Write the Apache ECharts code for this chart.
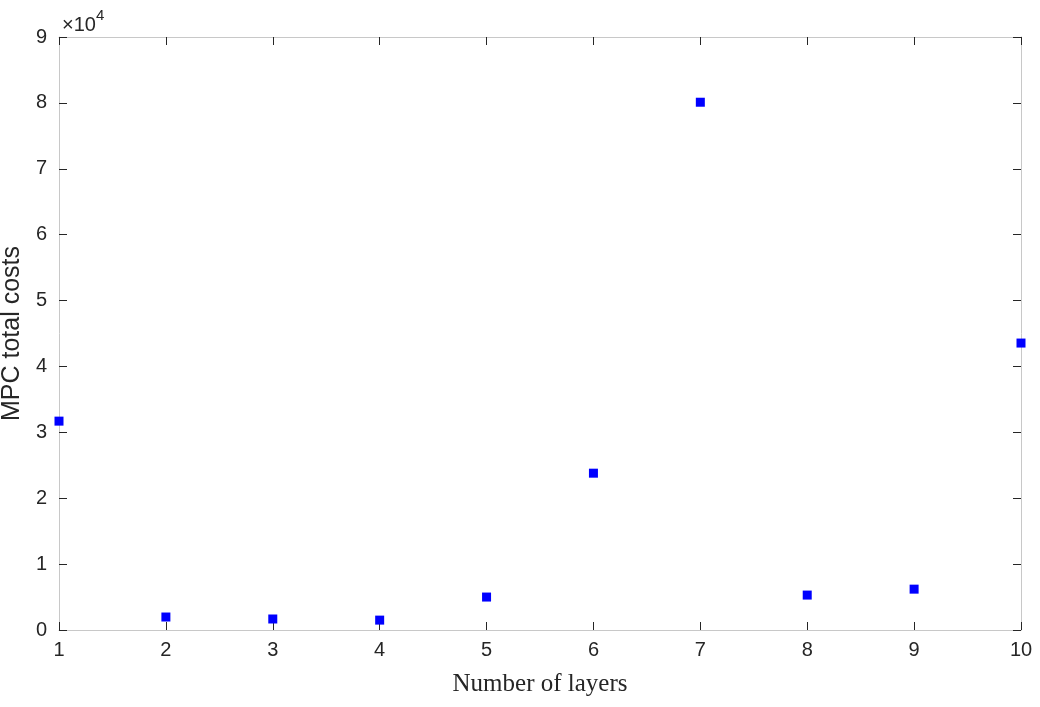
<!DOCTYPE html>
<html>
<head>
<meta charset="utf-8">
<script src="https://cdn.jsdelivr.net/npm/echarts@6/dist/echarts.min.js"></script>
<style>html,body{margin:0;padding:0;background:#fff}#chart{width:1040px;height:707px}</style>
</head>
<body>
<div id="chart"></div>
<script>
// Number of layers vs MPC total costs
const layers = [1, 2, 3, 4, 5, 6, 7, 8, 9, 10];
const costs = [31700, 1970, 1670, 1500, 5000, 23800, 80100, 5300, 6200, 43550];

const chart = echarts.init(document.getElementById('chart'));
const tickColor = '#262626';
const axisCommon = {
  axisLine: { show: true, onZero: false, lineStyle: { color: '#c8c8c8', width: 1 } },
  axisTick: { show: true, inside: true, length: 8, lineStyle: { color: '#262626' } },
  splitLine: { show: false }
};

chart.setOption({
  animation: false,
  grid: { left: 59, right: 19, top: 37, bottom: 77, outerBoundsMode: 'none', containLabel: false },
  xAxis: [
    Object.assign({
      type: 'value', min: 1, max: 10, interval: 1,
      name: 'Number of layers', nameLocation: 'middle', nameGap: 42,
      nameTextStyle: { fontFamily: 'Liberation Serif', fontSize: 25, color: tickColor },
      axisLabel: { fontFamily: 'Liberation Sans', fontSize: 20, color: tickColor, margin: 10 }
    }, axisCommon),
    Object.assign({
      type: 'value', min: 1, max: 10, interval: 1, position: 'top',
      axisLabel: { show: false }
    }, axisCommon)
  ],
  yAxis: [
    Object.assign({
      type: 'value', min: 0, max: 90000, interval: 10000,
      name: 'MPC total costs', nameLocation: 'middle', nameGap: 30,
      nameTextStyle: { fontFamily: 'Liberation Sans', fontSize: 25, color: tickColor },
      axisLabel: { fontFamily: 'Liberation Sans', fontSize: 20, color: tickColor, margin: 12,
        formatter: v => String(v / 10000) }
    }, axisCommon),
    Object.assign({
      type: 'value', min: 0, max: 90000, interval: 10000, position: 'right',
      axisLabel: { show: false }
    }, axisCommon)
  ],
  graphic: [{
    type: 'text', left: 62, top: 8,
    style: {
      text: '{a|×10}{b|4}',
      rich: {
        a: { fontFamily: 'Liberation Sans', fontSize: 20, fill: tickColor, padding: [7, 0, 0, 0] },
        b: { fontFamily: 'Liberation Sans', fontSize: 15, fill: tickColor, verticalAlign: 'top' }
      }
    }
  }],
  series: [{
    type: 'scatter',
    symbol: 'rect',
    symbolSize: 9,
    itemStyle: { color: '#0000ff', opacity: 1 },
    data: layers.map((x, i) => [x, costs[i]])
  }]
});
</script>
</body>
</html>
